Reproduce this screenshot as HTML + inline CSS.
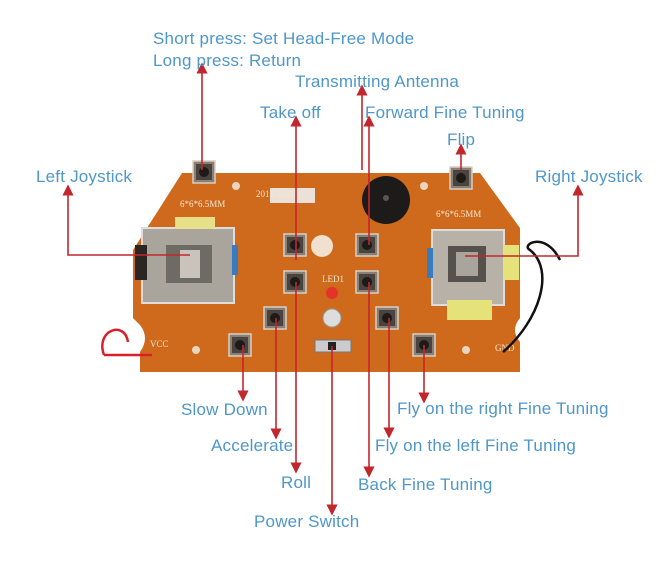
<!DOCTYPE html>
<html><head><meta charset="utf-8"><style>
html,body{margin:0;padding:0;background:#fff;}
svg{display:block}
text{font-family:"Liberation Sans",sans-serif;font-size:17px;letter-spacing:0.2px;fill:#4f97c9;}
.s{font-family:"Liberation Serif",serif;font-size:9px;letter-spacing:0;fill:#f5e6d0;}
</style></head><body>
<svg width="664" height="584" viewBox="0 0 664 584" xmlns="http://www.w3.org/2000/svg">
<defs>
<marker id="a" viewBox="0 0 10 10" refX="5" refY="5" markerWidth="7" markerHeight="7" orient="auto-start-reverse"><path d="M0,0 L10,5 L0,10 z" fill="#c2272d"/></marker>
<g id="btn"><rect x="-11" y="-11" width="22" height="22" fill="#8a7f73" stroke="#d9cfc4" stroke-width="1.5"/><rect x="-8" y="-8" width="16" height="16" fill="#4a4440"/><circle r="5" fill="#1e1a18"/></g>
</defs>
<path d="M182,173 L480,173 L520,228 L520,318 Q510,330 520,342 L520,372 L140,372 L140,352 Q150,338 140,325 L133,318 L133,250 Z" fill="#cf6a1c"/>
<circle cx="236" cy="186" r="4" fill="#e9d6c0"/><circle cx="424" cy="186" r="4" fill="#e9d6c0"/>
<circle cx="196" cy="350" r="4" fill="#e9d6c0"/><circle cx="466" cy="350" r="4" fill="#e9d6c0"/>
<rect x="142" y="228" width="92" height="75" fill="#a9a49c" stroke="#ddd" stroke-width="2"/>
<rect x="175" y="217" width="40" height="12" fill="#e8df8a"/>
<rect x="166" y="245" width="46" height="38" fill="#6e6a64"/>
<rect x="180" y="250" width="20" height="28" fill="#c9c3bb"/>
<rect x="135" y="245" width="12" height="35" fill="#2a2624"/>
<rect x="232" y="245" width="6" height="30" fill="#3a7bbf"/>
<rect x="432" y="230" width="72" height="75" fill="#b7b1a8" stroke="#ddd" stroke-width="2"/>
<rect x="448" y="246" width="38" height="36" fill="#55514c"/>
<rect x="456" y="252" width="22" height="24" fill="#a9a49c"/>
<rect x="503" y="245" width="16" height="35" fill="#e6e27a"/>
<rect x="447" y="300" width="45" height="20" fill="#e6e27a"/>
<rect x="427" y="248" width="6" height="30" fill="#3a7bbf"/>
<circle cx="386" cy="200" r="24" fill="#1d1b1a"/><circle cx="386" cy="198" r="3" fill="#555"/>
<circle cx="322" cy="246" r="11" fill="#f2e0cf"/>
<rect x="270" y="188" width="45" height="15" fill="#eee" opacity="0.9"/>
<use href="#btn" x="204" y="172"/><use href="#btn" x="461" y="178"/>
<use href="#btn" x="295" y="245"/><use href="#btn" x="367" y="245"/>
<use href="#btn" x="295" y="282"/><use href="#btn" x="367" y="282"/>
<use href="#btn" x="275" y="318"/><use href="#btn" x="387" y="318"/>
<use href="#btn" x="240" y="345"/><use href="#btn" x="424" y="345"/>
<circle cx="332" cy="293" r="6" fill="#e3332a"/>
<circle cx="332" cy="318" r="9" fill="#ddd" stroke="#999"/>
<rect x="315" y="340" width="36" height="12" fill="#ccc" stroke="#777"/><rect x="328" y="342" width="8" height="8" fill="#222"/>
<text class="s" x="256" y="197">2018.01.02</text><text class="s" x="180" y="207">6*6*6.5MM</text><text class="s" x="436" y="217">6*6*6.5MM</text>
<text class="s" x="150" y="347">VCC</text><text class="s" x="495" y="351">GND</text><text class="s" x="322" y="282">LED1</text>
<path d="M104,355 L152,355 M104,355 C95,330 125,320 128,342" stroke="#d8202a" stroke-width="2.5" fill="none"/>
<path d="M503,352 C540,320 555,270 530,250 C520,245 545,230 560,260" stroke="#111" stroke-width="2.5" fill="none"/>
<g stroke="#c2272d" stroke-width="1.6" fill="none">
<path d="M202,170 V68" marker-end="url(#a)"/>
<path d="M296,260 V121" marker-end="url(#a)"/>
<path d="M362,170 V90" marker-end="url(#a)"/>
<path d="M369,245 V121" marker-end="url(#a)"/>
<path d="M461,170 V149" marker-end="url(#a)"/>
<path d="M190,255 H68 V190" marker-end="url(#a)"/>
<path d="M465,256 H578 V190" marker-end="url(#a)"/>
<path d="M243,345 V396" marker-end="url(#a)"/>
<path d="M276,318 V434" marker-end="url(#a)"/>
<path d="M296,282 V468" marker-end="url(#a)"/>
<path d="M332,346 V510" marker-end="url(#a)"/>
<path d="M369,282 V472" marker-end="url(#a)"/>
<path d="M389,318 V433" marker-end="url(#a)"/>
<path d="M424,345 V398" marker-end="url(#a)"/>
</g>
<text x="153" y="44">Short press: Set Head-Free Mode</text>
<text x="153" y="66">Long press: Return</text>
<text x="295" y="87">Transmitting Antenna</text>
<text x="260" y="118">Take off</text>
<text x="365" y="118">Forward Fine Tuning</text>
<text x="447" y="145">Flip</text>
<text x="36" y="182">Left Joystick</text>
<text x="535" y="182">Right Joystick</text>
<text x="181" y="415">Slow Down</text>
<text x="211" y="451">Accelerate</text>
<text x="281" y="488">Roll</text>
<text x="254" y="527">Power Switch</text>
<text x="358" y="490">Back Fine Tuning</text>
<text x="375" y="451">Fly on the left Fine Tuning</text>
<text x="397" y="414">Fly on the right Fine Tuning</text>
</svg>
</body></html>
